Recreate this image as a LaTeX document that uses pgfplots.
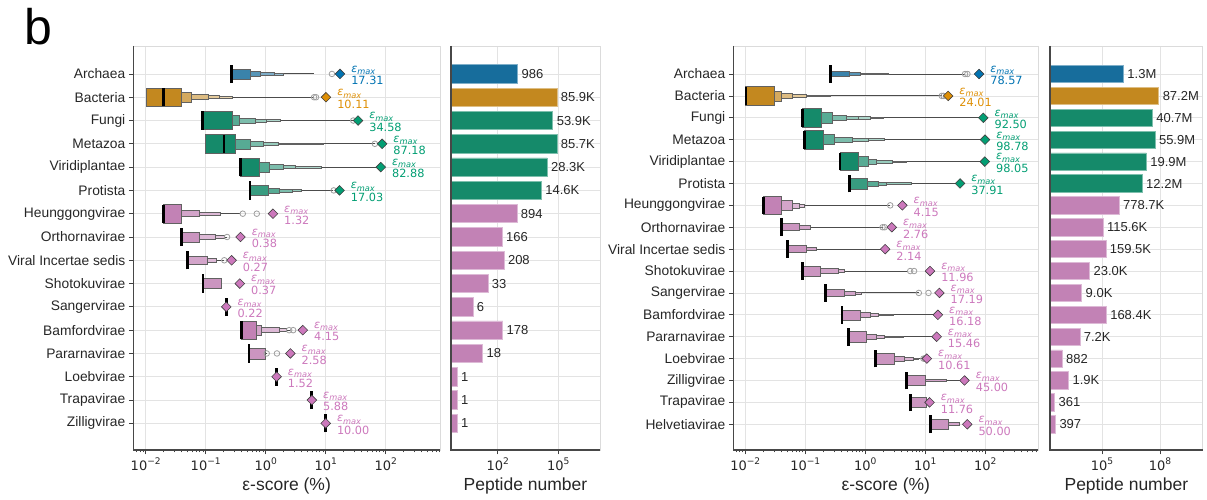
\documentclass[border=0pt]{standalone}
\usepackage{fontspec}
\setmainfont{Liberation Sans}
\newfontfamily\dejavu{DejaVu Sans}
\usepackage{pgfplots}
\pgfplotsset{compat=1.18}

% palette (box / bar fills are the desaturated versions)
\definecolor{cA}{HTML}{176D9C}
\definecolor{cB}{HTML}{C3881F}
\definecolor{cG}{HTML}{158A6A}
\definecolor{cP}{HTML}{C282B5}
\definecolor{tA}{HTML}{0173B2}
\definecolor{tB}{HTML}{DE8F05}
\definecolor{tG}{HTML}{029E73}
\definecolor{tP}{HTML}{CC78BC}

\tikzset{
  lvedge/.style={draw=black!62, line width=0.6pt},
  l1/.style={fill=#1, lvedge},
  l1b/.style={fill=#1!85!white, lvedge},
  l2/.style={fill=#1!72!white, lvedge},
  l3/.style={fill=#1!56!white, lvedge},
  l4/.style={fill=#1!44!white, lvedge},
  l5/.style={fill=#1!34!white, lvedge},
  l6/.style={fill=#1!26!white, lvedge},
}

% one letter-value box: row, low, high, half height, level style
\newcommand\lvbox[5]{%
  \pgfmathsetmacro\ya{#1-#4}\pgfmathsetmacro\yb{#1+#4}%
  \edef\lvnext{\noexpand\addplot[#5] coordinates {(#2,\ya) (#3,\ya) (#3,\yb) (#2,\yb)} -- cycle;}\lvnext}
% median bar: row, median, half height
\newcommand\lvmed[3]{%
  \pgfmathsetmacro\ya{#1-#3}\pgfmathsetmacro\yb{#1+#3}%
  \edef\lvnext{\noexpand\addplot[black, line width=2.8pt] coordinates {(#2,\ya) (#2,\yb)};}\lvnext}
% whisker line: row, from, to
\newcommand\lvwhisk[3]{\addplot[black!70, line width=0.9pt] coordinates {(#2,#1) (#3,#1)};}

\newcommand\pten[1]{10\raisebox{0.45em}{\fontsize{9.1}{9.1}\selectfont #1}}
\newcommand\emax{{\itshape ε\raisebox{-2.4pt}{\fontsize{8.2}{8.2}\selectfont max}}}

\pgfplotsset{
  every axis/.append style={
    scale only axis, height=404pt, clip=false,
    axis line style={draw=black!14, line width=0.9pt},
    tick pos=left, tick align=outside,
    major tick length=4.5pt, minor tick length=2.5pt,
    tick style={black!75, line width=0.8pt},
    grid=major, major grid style={black!11, line width=0.8pt},
    xticklabel style={font=\dejavu\fontsize{13}{13}\selectfont, text=black!85},
    yticklabel style={font=\fontsize{13.8}{14}\selectfont, text=black!85},
    xlabel style={font=\fontsize{17.5}{18}\selectfont, text=black!85},
  },
  pbar/.style={fill=#1, draw=#1!55!white, line width=0.8pt},
  emaxm/.style={only marks, mark=square*, mark size=3.4pt,
    mark options={rotate=45, fill=#1, draw=black!75, line width=0.6pt}},
  outl/.style={only marks, mark=o, mark size=2.8pt,
    mark options={draw=black!38, line width=0.8pt}},
  emaxlab/.style={point meta=explicit symbolic, nodes near coords={\emax\\\pgfplotspointmeta},
    nodes near coords align={anchor=west},
    every node near coord/.append style={font=\dejavu\fontsize{11.3}{12.4}\selectfont,
      text=#1, align=left, inner sep=0pt, xshift=11pt, yshift=-1.5pt}},
  barlab/.style={point meta=explicit symbolic, nodes near coords,
    nodes near coords align={anchor=west},
    every node near coord/.append style={font=\fontsize{13}{13}\selectfont,
      text=black!85, xshift=2.5pt, inner sep=1pt}},
}
\newcommand\darkspines{\draw[black!72, line width=1.4pt]
  (rel axis cs:0,1) -- (rel axis cs:0,0) -- (rel axis cs:1,0);}

\begin{document}
\begin{tikzpicture}
\path[use as bounding box] (0,0) rectangle (1207pt,500pt);
\node[anchor=base west, inner sep=0pt, font=\fontsize{50}{50}\selectfont] at (24pt,455pt) {b};

%% ---------------- epsilon-score, reference proteome set 1 ----------------
\begin{axis}[xmode=log, width=306.7pt, at={(133.3pt,50pt)}, anchor=south west,
  xmin=0.00621, xmax=803.6, ymin=-1.145, ymax=16.2,
  xtick={0.01,0.1,1,10,100},
  xticklabels={\pten{−2},\pten{−1},\pten{0},\pten{1},\pten{2}},
  minor xtick={0.007,0.008,0.009,0.02,0.03,0.04,0.05,0.06,0.07,0.08,0.09,
    0.2,0.3,0.4,0.5,0.6,0.7,0.8,0.9,2,3,4,5,6,7,8,9,
    20,30,40,50,60,70,80,90,200,300,400,500,600,700,800},
  xlabel={ε-score (\%)},
  ytick={0,...,15},
  yticklabels={Zilligvirae,Trapavirae,Loebvirae,Pararnavirae,Bamfordvirae,
    Sangervirae,Shotokuvirae,Viral Incertae sedis,Orthornavirae,Heunggongvirae,
    Protista,Viridiplantae,Metazoa,Fungi,Bacteria,Archaea}]
% Archaea
\lvwhisk{15}{0.271}{6.38}
\lvbox{15}{0.271}{0.547}{0.215}{l1b=cA}
\lvbox{15}{0.547}{0.826}{0.114}{l2=cA}
\lvbox{15}{0.826}{1.375}{0.064}{l3=cA}
\lvbox{15}{1.375}{1.94}{0.043}{l4=cA}
\lvmed{15}{0.271}{0.393}
% Bacteria
\lvwhisk{14}{0.0101}{6.2}
\lvbox{14}{0.0101}{0.0398}{0.393}{l1=cB}
\lvbox{14}{0.0398}{0.0584}{0.221}{l2=cB}
\lvbox{14}{0.0584}{0.11}{0.107}{l3=cB}
\lvbox{14}{0.11}{0.169}{0.064}{l4=cB}
\lvbox{14}{0.169}{0.282}{0.043}{l5=cB}
\lvmed{14}{0.0196}{0.393}
% Fungi
\lvwhisk{13}{0.0891}{28.8}
\lvbox{13}{0.0891}{0.277}{0.393}{l1=cG}
\lvbox{13}{0.277}{0.363}{0.208}{l2=cG}
\lvbox{13}{0.363}{0.663}{0.107}{l3=cG}
\lvbox{13}{0.663}{1.04}{0.064}{l4=cG}
\lvbox{13}{1.04}{1.78}{0.043}{l5=cG}
\lvmed{13}{0.0891}{0.393}
% Metazoa
\lvwhisk{12}{0.1}{66}
\lvbox{12}{0.1}{0.311}{0.393}{l1=cG}
\lvbox{12}{0.311}{0.562}{0.215}{l2=cG}
\lvbox{12}{0.562}{0.912}{0.107}{l3=cG}
\lvbox{12}{0.912}{1.62}{0.064}{l4=cG}
\lvbox{12}{1.62}{9.1}{0.032}{l5=cG}
\lvmed{12}{0.202}{0.393}
% Viridiplantae
\lvwhisk{11}{0.383}{82}
\lvbox{11}{0.383}{0.782}{0.393}{l1=cG}
\lvbox{11}{0.782}{1.15}{0.215}{l2=cG}
\lvbox{11}{1.15}{1.96}{0.107}{l3=cG}
\lvbox{11}{1.96}{3.08}{0.064}{l4=cG}
\lvbox{11}{3.08}{8.58}{0.032}{l5=cG}
\lvmed{11}{0.383}{0.393}
% Protista
\lvwhisk{10}{0.547}{13.4}
\lvbox{10}{0.547}{1.1}{0.2}{l1b=cG}
\lvbox{10}{1.1}{1.69}{0.107}{l2=cG}
\lvbox{10}{1.69}{2.82}{0.064}{l3=cG}
\lvbox{10}{2.82}{3.98}{0.043}{l4=cG}
\lvmed{10}{0.547}{0.393}
% Heunggongvirae
\lvwhisk{9}{0.0196}{0.373}
\lvbox{9}{0.0196}{0.0398}{0.393}{l1=cP}
\lvbox{9}{0.0398}{0.0782}{0.13}{l2=cP}
\lvbox{9}{0.0782}{0.173}{0.05}{l3=cP}
\lvmed{9}{0.0196}{0.393}
% Orthornavirae
\lvwhisk{8}{0.0398}{0.224}
\lvbox{8}{0.0398}{0.0782}{0.215}{l1b=cP}
\lvbox{8}{0.0782}{0.143}{0.107}{l3=cP}
\lvbox{8}{0.143}{0.202}{0.064}{l4=cP}
\lvmed{8}{0.0398}{0.393}
% Viral Incertae sedis
\lvwhisk{7}{0.0501}{0.2}
\lvbox{7}{0.0501}{0.108}{0.18}{l2=cP}
\lvbox{7}{0.108}{0.152}{0.086}{l3=cP}
\lvmed{7}{0.0501}{0.393}
% Shotokuvirae
\lvbox{6}{0.09}{0.185}{0.215}{l1b=cP}
\lvmed{6}{0.09}{0.393}
% Sangervirae
\lvmed{5}{0.22}{0.393}
% Bamfordvirae
\lvwhisk{4}{0.398}{2.54}
\lvbox{4}{0.39}{0.708}{0.4}{l1=cP}
\lvbox{4}{0.708}{0.837}{0.215}{l2=cP}
\lvbox{4}{0.837}{1.69}{0.107}{l3=cP}
\lvbox{4}{1.69}{2.22}{0.064}{l4=cP}
\lvmed{4}{0.398}{0.393}
% Pararnavirae
\lvwhisk{3}{0.528}{1.04}
\lvbox{3}{0.528}{0.97}{0.236}{l1b=cP}
\lvmed{3}{0.528}{0.393}
% Loebvirae, Trapavirae, Zilligvirae
\lvmed{2}{1.52}{0.393}
\lvmed{1}{5.88}{0.393}
\lvmed{0}{10.0}{0.393}
% outliers
\addplot[outl] coordinates {(12.7,15) (6.4,14) (6.9,14) (28.8,13) (66,12) (13.6,10)
  (0.415,9) (0.71,9) (0.227,8) (0.204,7) (2.46,4) (2.87,4) (1.04,3) (1.54,3)};
% maximum epsilon-scores
\addplot[emaxm=tA, emaxlab=tA] table[meta=lab] {
x y lab
17.31 15 17.31
};
\addplot[emaxm=tB, emaxlab=tB] table[meta=lab] {
x y lab
10.11 14 10.11
};
\addplot[emaxm=tG, emaxlab=tG] table[meta=lab] {
x y lab
34.58 13 34.58
87.18 12 87.18
82.88 11 82.88
17.03 10 17.03
};
\addplot[emaxm=tP, emaxlab=tP] table[meta=lab] {
x y lab
1.32 9 1.32
0.38 8 0.38
0.27 7 0.27
0.37 6 0.37
0.22 5 0.22
4.15 4 4.15
2.58 3 2.58
1.52 2 1.52
5.88 1 5.88
10.00 0 10.00
};
\darkspines
\end{axis}

%% ---------------- peptide numbers, set 1 ----------------
\begin{axis}[xmode=log, width=149pt, at={(451pt,50pt)}, anchor=south west,
  xminorticks=false, xbar, bar width=0.79, bar shift=0pt, log origin x=infty,
  yticklabels={}, ytick style={draw=none}, xlabel={Peptide number},
  xmin=0.4875, xmax=11590000, ymin=-1.145, ymax=16.2,
  ytick={0,...,15}, xtick={100,100000}, xticklabels={\pten{2},\pten{5}}]
\addplot[pbar=cA, barlab] table[meta=lab] {
x y lab
986 15 986
};
\addplot[pbar=cB, barlab] table[meta=lab] {
x y lab
85900 14 85.9K
};
\addplot[pbar=cG, barlab] table[meta=lab] {
x y lab
53900 13 53.9K
85700 12 85.7K
28300 11 28.3K
14600 10 14.6K
};
\addplot[pbar=cP, barlab] table[meta=lab] {
x y lab
894 9 894
166 8 166
208 7 208
33 6 33
6 5 6
178 4 178
18 3 18
1 2 1
1 1 1
1 0 1
};
\darkspines
\end{axis}

%% ---------------- epsilon-score, reference proteome set 2 ----------------
\begin{axis}[xmode=log, width=305pt, at={(733.3pt,50pt)}, anchor=south west,
  xmin=0.00631, xmax=764, ymin=-1.175, ymax=17.28,
  xtick={0.01,0.1,1,10,100},
  xticklabels={\pten{−2},\pten{−1},\pten{0},\pten{1},\pten{2}},
  minor xtick={0.007,0.008,0.009,0.02,0.03,0.04,0.05,0.06,0.07,0.08,0.09,
    0.2,0.3,0.4,0.5,0.6,0.7,0.8,0.9,2,3,4,5,6,7,8,9,
    20,30,40,50,60,70,80,90,200,300,400,500,600,700},
  xlabel={ε-score (\%)},
  ytick={0,...,16},
  yticklabels={Helvetiavirae,Trapavirae,Zilligvirae,Loebvirae,Pararnavirae,
    Bamfordvirae,Sangervirae,Shotokuvirae,Viral Incertae sedis,Orthornavirae,
    Heunggongvirae,Protista,Viridiplantae,Metazoa,Fungi,Bacteria,Archaea}]
% Archaea
\lvwhisk{16}{0.265}{45.9}
\lvbox{16}{0.265}{0.541}{0.114}{l1b=cA}
\lvbox{16}{0.541}{0.816}{0.069}{l2=cA}
\lvbox{16}{0.816}{2.42}{0.034}{l3=cA}
\lvmed{16}{0.265}{0.404}
% Bacteria
\lvwhisk{15}{0.0101}{18.8}
\lvbox{15}{0.0101}{0.0301}{0.418}{l1=cB}
\lvbox{15}{0.0301}{0.0404}{0.229}{l2=cB}
\lvbox{15}{0.0404}{0.0617}{0.114}{l3=cB}
\lvbox{15}{0.0617}{0.105}{0.069}{l4=cB}
\lvbox{15}{0.105}{0.258}{0.034}{l5=cB}
\lvmed{15}{0.0103}{0.404}
% Fungi
\lvwhisk{14}{0.0891}{87}
\lvbox{14}{0.0891}{0.187}{0.418}{l1=cG}
\lvbox{14}{0.187}{0.284}{0.229}{l2=cG}
\lvbox{14}{0.284}{0.479}{0.114}{l3=cG}
\lvbox{14}{0.479}{0.76}{0.069}{l4=cG}
\lvbox{14}{0.76}{1.2}{0.046}{l5=cG}
\lvbox{14}{1.2}{2.0}{0.03}{l6=cG}
\lvmed{14}{0.0891}{0.404}
% Metazoa
\lvwhisk{13}{0.0977}{95}
\lvbox{13}{0.0977}{0.2}{0.418}{l1=cG}
\lvbox{13}{0.2}{0.31}{0.229}{l2=cG}
\lvbox{13}{0.31}{0.61}{0.114}{l3=cG}
\lvbox{13}{0.61}{1.12}{0.069}{l4=cG}
\lvbox{13}{1.12}{2.1}{0.046}{l5=cG}
\lvmed{13}{0.0977}{0.404}
% Viridiplantae
\lvwhisk{12}{0.378}{95}
\lvbox{12}{0.378}{0.76}{0.418}{l1=cG}
\lvbox{12}{0.76}{1.13}{0.229}{l2=cG}
\lvbox{12}{1.13}{1.55}{0.114}{l3=cG}
\lvbox{12}{1.55}{2.86}{0.069}{l4=cG}
\lvbox{12}{2.86}{4.9}{0.034}{l5=cG}
\lvmed{12}{0.378}{0.404}
% Protista
\lvwhisk{11}{0.541}{35}
\lvbox{11}{0.541}{1.1}{0.25}{l1b=cG}
\lvbox{11}{1.1}{1.66}{0.114}{l2=cG}
\lvbox{11}{1.66}{2.22}{0.069}{l3=cG}
\lvbox{11}{2.22}{5.9}{0.034}{l4=cG}
\lvmed{11}{0.541}{0.404}
% Heunggongvirae
\lvwhisk{10}{0.0199}{2.6}
\lvbox{10}{0.0199}{0.0404}{0.405}{l1=cP}
\lvbox{10}{0.0404}{0.0617}{0.229}{l2=cP}
\lvbox{10}{0.0617}{0.079}{0.114}{l3=cP}
\lvbox{10}{0.079}{0.098}{0.069}{l4=cP}
\lvmed{10}{0.0199}{0.404}
% Orthornavirae
\lvwhisk{9}{0.0404}{1.94}
\lvbox{9}{0.0404}{0.079}{0.16}{l1b=cP}
\lvbox{9}{0.079}{0.12}{0.09}{l2=cP}
\lvmed{9}{0.0404}{0.404}
% Viral Incertae sedis
\lvwhisk{8}{0.0501}{2.07}
\lvbox{8}{0.0501}{0.105}{0.153}{l1b=cP}
\lvbox{8}{0.105}{0.154}{0.069}{l2=cP}
\lvmed{8}{0.0501}{0.404}
% Shotokuvirae
\lvwhisk{7}{0.0905}{5.2}
\lvbox{7}{0.0905}{0.18}{0.229}{l1b=cP}
\lvbox{7}{0.18}{0.354}{0.114}{l2=cP}
\lvbox{7}{0.354}{0.44}{0.069}{l3=cP}
\lvmed{7}{0.0905}{0.404}
% Sangervirae
\lvwhisk{6}{0.22}{7.8}
\lvbox{6}{0.22}{0.44}{0.153}{l1b=cP}
\lvbox{6}{0.44}{0.67}{0.09}{l2=cP}
\lvbox{6}{0.67}{0.87}{0.046}{l3=cP}
\lvmed{6}{0.22}{0.404}
% Bamfordvirae
\lvwhisk{5}{0.41}{15}
\lvbox{5}{0.41}{0.816}{0.229}{l1b=cP}
\lvbox{5}{0.816}{1.2}{0.114}{l2=cP}
\lvbox{5}{1.2}{1.66}{0.069}{l3=cP}
\lvbox{5}{1.66}{2.9}{0.034}{l4=cP}
\lvmed{5}{0.41}{0.404}
% Pararnavirae
\lvwhisk{4}{0.52}{14.3}
\lvbox{4}{0.52}{1.02}{0.244}{l1b=cP}
\lvbox{4}{1.02}{1.55}{0.114}{l2=cP}
\lvbox{4}{1.55}{2.1}{0.069}{l3=cP}
\lvbox{4}{2.1}{4.3}{0.034}{l4=cP}
\lvmed{4}{0.52}{0.404}
% Loebvirae
\lvwhisk{3}{1.5}{8.7}
\lvbox{3}{1.5}{3.0}{0.244}{l1b=cP}
\lvbox{3}{3.0}{4.45}{0.114}{l2=cP}
\lvbox{3}{4.45}{6.2}{0.069}{l3=cP}
\lvbox{3}{6.2}{7.6}{0.034}{l4=cP}
\lvmed{3}{1.5}{0.404}
% Zilligvirae
\lvwhisk{2}{4.9}{43}
\lvbox{2}{4.9}{9.9}{0.229}{l1b=cP}
\lvbox{2}{9.9}{22.7}{0.046}{l2=cP}
\lvmed{2}{4.9}{0.404}
% Trapavirae
\lvbox{1}{5.7}{10.2}{0.229}{l1b=cP}
\lvmed{1}{5.7}{0.404}
% Helvetiavirae
\lvwhisk{0}{12.3}{36.8}
\lvbox{0}{12.3}{24.1}{0.229}{l1b=cP}
\lvbox{0}{24.1}{36.8}{0.069}{l2=cP}
\lvmed{0}{12.3}{0.404}
% outliers
\addplot[outl] coordinates {(45.9,16) (50.3,16) (18.8,15) (20.2,15) (2.6,10)
  (1.94,9) (2.1,9) (5.6,7) (6.5,7) (7.8,6) (11.3,6) (9.3,3) (9.8,3)};
% maximum epsilon-scores
\addplot[emaxm=tA, emaxlab=tA] table[meta=lab] {
x y lab
78.57 16 78.57
};
\addplot[emaxm=tB, emaxlab=tB] table[meta=lab] {
x y lab
24.01 15 24.01
};
\addplot[emaxm=tG, emaxlab=tG] table[meta=lab] {
x y lab
92.50 14 92.50
98.78 13 98.78
98.05 12 98.05
37.91 11 37.91
};
\addplot[emaxm=tP, emaxlab=tP] table[meta=lab] {
x y lab
4.15 10 4.15
2.76 9 2.76
2.14 8 2.14
11.96 7 11.96
17.19 6 17.19
16.18 5 16.18
15.46 4 15.46
10.61 3 10.61
45.00 2 45.00
11.76 1 11.76
50.00 0 50.00
};
\darkspines
\end{axis}

%% ---------------- peptide numbers, set 2 ----------------
\begin{axis}[xmode=log, width=152.7pt, at={(1050pt,50pt)}, anchor=south west,
  xminorticks=false, xbar, bar width=0.79, bar shift=0pt, log origin x=infty,
  yticklabels={}, ytick style={draw=none}, xlabel={Peptide number},
  xmin=204, xmax=16200000000, ymin=-1.175, ymax=17.28,
  ytick={0,...,16}, xtick={100000,100000000}, xticklabels={\pten{5},\pten{8}}]
\addplot[pbar=cA, barlab] table[meta=lab] {
x y lab
1300000 16 1.3M
};
\addplot[pbar=cB, barlab] table[meta=lab] {
x y lab
87200000 15 87.2M
};
\addplot[pbar=cG, barlab] table[meta=lab] {
x y lab
40700000 14 40.7M
55900000 13 55.9M
19900000 12 19.9M
12200000 11 12.2M
};
\addplot[pbar=cP, barlab] table[meta=lab] {
x y lab
778700 10 778.7K
115600 9 115.6K
159500 8 159.5K
23000 7 23.0K
9000 6 9.0K
168400 5 168.4K
7200 4 7.2K
882 3 882
1900 2 1.9K
361 1 361
397 0 397
};
\darkspines
\end{axis}
\end{tikzpicture}
\end{document}
